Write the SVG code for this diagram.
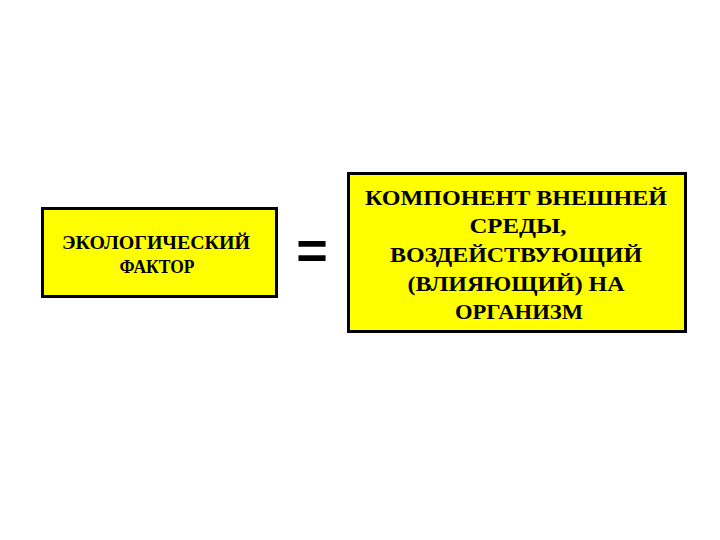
<svg xmlns="http://www.w3.org/2000/svg" width="720" height="540" viewBox="0 0 720 540">
<style>
.box{fill:#ffff00;stroke:#000;stroke-width:3}
.t{font-family:"Liberation Serif","Times New Roman",serif;font-weight:bold;fill:#000;text-anchor:middle}
</style>
<rect width="720" height="540" fill="#fff"/>
<g id="factor">
<rect class="box" x="42.5" y="208.5" width="234" height="88"/>
<text class="t" font-size="18" lengthAdjust="spacingAndGlyphs"><tspan x="156" y="249" textLength="188" lengthAdjust="spacingAndGlyphs">ЭКОЛОГИЧЕСКИЙ</tspan><tspan x="157" y="273" textLength="75" lengthAdjust="spacingAndGlyphs">ФАКТОР</tspan></text>
</g>
<g id="equals">
<text class="t" x="312" y="269" font-size="54" style="font-family:'Liberation Sans',Arial,sans-serif">=</text>
</g>
<g id="definition">
<rect class="box" x="348.5" y="173.5" width="337" height="158"/>
<text class="t" font-size="22"><tspan x="516" y="205" textLength="302" lengthAdjust="spacingAndGlyphs">КОМПОНЕНТ ВНЕШНЕЙ</tspan><tspan x="518" y="233" textLength="97" lengthAdjust="spacingAndGlyphs">СРЕДЫ,</tspan><tspan x="516" y="262" textLength="252" lengthAdjust="spacingAndGlyphs">ВОЗДЕЙСТВУЮЩИЙ</tspan><tspan x="516" y="291" textLength="217" lengthAdjust="spacingAndGlyphs">(ВЛИЯЮЩИЙ) НА</tspan><tspan x="519" y="319" textLength="128" lengthAdjust="spacingAndGlyphs">ОРГАНИЗМ</tspan></text>
</g>
<g id="connectors"></g>
</svg>
